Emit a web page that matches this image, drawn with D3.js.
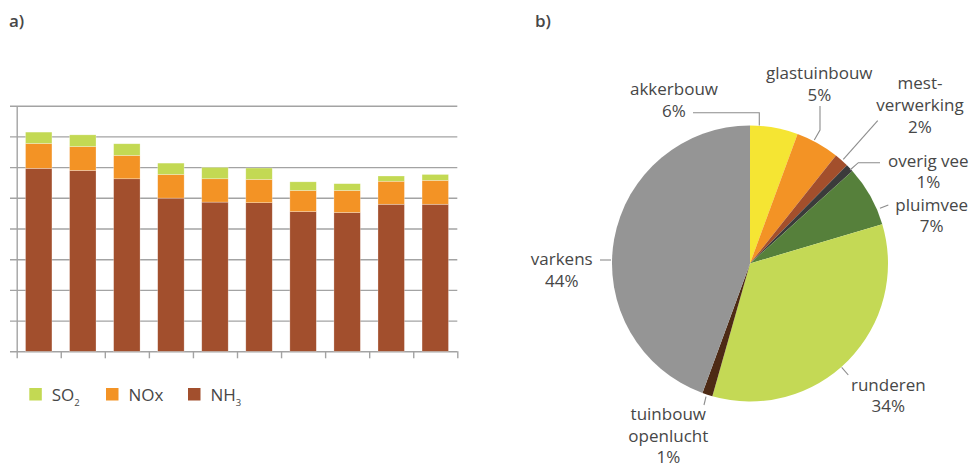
<!DOCTYPE html>
<html>
<head>
<meta charset="utf-8">
<script src="https://cdn.jsdelivr.net/npm/d3@7"></script>
<style>
  body { margin: 0; background: #fff; }
  svg text { font-family: "Open Sans", sans-serif; fill: #474747; }
</style>
</head>
<body>
<script>
// a) stacked bars, values in gridline units (no axis labels in the source)
var categories = ["1", "2", "3", "4", "5", "6", "7", "8", "9", "10"];
var nh3 = [5.96, 5.89, 5.62, 4.99, 4.86, 4.84, 4.55, 4.52, 4.79, 4.79];
var nox = [0.81, 0.78, 0.76, 0.77, 0.76, 0.76, 0.69, 0.72, 0.75, 0.78];
var so2 = [0.37, 0.38, 0.38, 0.37, 0.37, 0.37, 0.28, 0.22, 0.17, 0.19];
var seriesNames = ["NH3", "NOx", "SO2"];
var yTicks = [0, 1, 2, 3, 4, 5, 6, 7, 8];

// b) pie, share per sector (%)
var sectors = ["akkerbouw", "glastuinbouw", "mest-verwerking", "overig vee", "pluimvee", "runderen", "tuinbouw openlucht", "varkens"];
var shares = [5.6, 5.1, 1.7, 0.9, 7.1, 34.0, 1.2, 44.4];

var barColors = {NH3: "#a24f2d", NOx: "#f39325", SO2: "#c3d953"};
var pieColors = ["#f5e533", "#f39325", "#a34f2c", "#3b3b3b", "#56803b", "#c4d955", "#4d2a15", "#959595"];

var svg = d3.select("body").append("svg").attr("width", 973).attr("height", 467);

svg.append("text").attr("x", 9).attr("y", 27).style("font-size", "17px").style("font-weight", 600).text("a)");
svg.append("text").attr("x", 535).attr("y", 27).style("font-size", "17px").style("font-weight", 600).text("b)");

// ---- bar chart ----
var bx = 16.7, by = 105.7, bw = 440.6, bh = 245.6;
var g = svg.append("g").attr("transform", "translate(" + bx + "," + by + ")");

var y = d3.scaleLinear().domain([0, 8]).range([bh, 0]);
var x = d3.scaleBand().domain(categories).range([0, bw]).paddingInner(0.4).paddingOuter(0.2);
var xEdge = d3.scaleLinear().domain([0, categories.length]).range([0, bw]);

var grid = g.append("g").call(d3.axisLeft(y).tickValues(yTicks).tickSize(-bw).tickFormat(""));
grid.select(".domain").remove();
grid.selectAll(".tick line").attr("x1", -6.7).attr("stroke", "#a3a3a3").attr("stroke-width", 1.4);

var table = categories.map(function(c, i) { return {cat: c, NH3: nh3[i], NOx: nox[i], SO2: so2[i]}; });
var stacked = d3.stack().keys(seriesNames)(table);

g.selectAll("g.layer").data(stacked).enter().append("g").attr("class", "layer")
  .attr("fill", function(d) { return barColors[d.key]; })
  .selectAll("rect").data(function(d) { return d; }).enter().append("rect")
  .attr("x", function(d) { return x(d.data.cat); })
  .attr("width", x.bandwidth())
  .attr("y", function(d) { return y(d[1]); })
  .attr("height", function(d) { return y(d[0]) - y(d[1]); })
  .attr("stroke", "rgba(255,255,255,0.45)").attr("stroke-width", 0.6);

var yAx = g.append("g").call(d3.axisLeft(y).tickValues([]).tickSizeOuter(0));
yAx.select(".domain").attr("stroke", "#a3a3a3").attr("stroke-width", 1.4);

var xAx = g.append("g").attr("transform", "translate(0," + bh + ")")
  .call(d3.axisBottom(xEdge).tickValues(d3.range(categories.length + 1)).tickSize(7).tickFormat(""));
xAx.select(".domain").remove();
xAx.selectAll(".tick line").attr("stroke", "#a3a3a3").attr("stroke-width", 1.4);

// legend
var legend = [
  {key: "SO2", base: "SO", sub: "2", x: 29.3},
  {key: "NOx", base: "NOx", sub: "", x: 106},
  {key: "NH3", base: "NH", sub: "3", x: 188}
];
var lg = svg.selectAll("g.legend").data(legend).enter().append("g").attr("class", "legend")
  .attr("transform", function(d) { return "translate(" + d.x + ",388)"; });
lg.append("rect").attr("width", 12.5).attr("height", 12.5).attr("fill", function(d) { return barColors[d.key]; });
var lt = lg.append("text").attr("x", 22.5).attr("y", 12.8).style("font-size", "17px");
lt.append("tspan").text(function(d) { return d.base; });
lt.append("tspan").attr("dy", 5).style("font-size", "9.5px").text(function(d) { return d.sub; });

// ---- pie ----
var cx = 750, cy = 263.5, r = 138;
var pg = svg.append("g").attr("transform", "translate(" + cx + "," + cy + ")");
var pie = d3.pie().sort(null).value(function(d) { return d; });
var arc = d3.arc().innerRadius(0).outerRadius(r);
pg.selectAll("path").data(pie(shares)).enter().append("path")
  .attr("d", arc).attr("fill", function(d, i) { return pieColors[i]; });

// label placement, relative to pie centre
var labelLayout = [
  {lines: ["akkerbouw"], x: -76, y: -168.5, leader: [[-57, -150.8], [9.3, -150.8], [9.3, -138]]},
  {lines: ["glastuinbouw"], x: 69.3, y: -184.2, leader: [[70, -157.5], [70, -133.5], [64.3, -123.5]]},
  {lines: ["mest-", "verwerking"], x: 170, y: -174.2, leader: [[127.7, -142.8], [93.3, -104.2]]},
  {lines: ["overig vee"], x: 178.3, y: -96.8, leader: [[130, -100.8], [108.3, -100.8], [100, -93.5]]},
  {lines: ["pluimvee"], x: 181.7, y: -52.8, leader: [[138.3, -58.5], [130, -55.2]]},
  {lines: ["runderen"], x: 138.3, y: 127.2, leader: [[91.7, 103.8], [98.3, 111.5]]},
  {lines: ["tuinbouw", "openlucht"], x: -81.7, y: 156.5, leader: [[-44, 133.2], [-46, 141.5]]},
  {lines: ["varkens"], x: -188.3, y: 1.5, leader: [[-150, -3.5], [-139, -3.5]]}
];
var lineH = 21.7;
labelLayout.forEach(function(lab, i) {
  pg.append("polyline").attr("points", lab.leader.join(" "))
    .attr("fill", "none").attr("stroke", "#8c8c8c").attr("stroke-width", 1.1);
  var t = pg.append("text").attr("text-anchor", "middle").style("font-size", "17px");
  var lines = lab.lines.concat([Math.round(shares[i]) + "%"]);
  lines.forEach(function(s, k) {
    t.append("tspan").attr("x", lab.x).attr("y", lab.y + k * lineH).text(s);
  });
});
</script>
</body>
</html>
